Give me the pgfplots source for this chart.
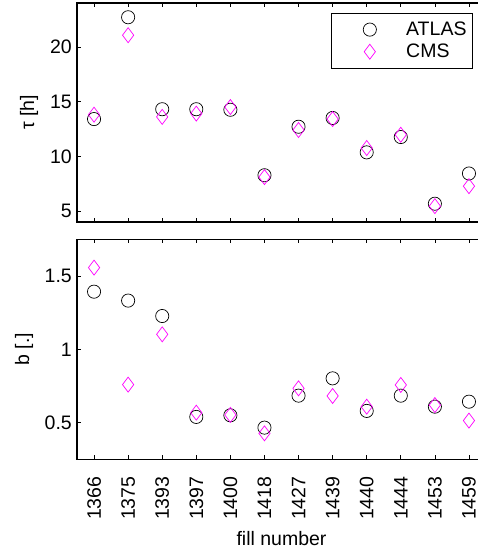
\documentclass[border=0pt]{standalone}
\usepackage{pgfplots}
\pgfplotsset{compat=1.18}
\usepackage{pgfplotstable}
\usepackage{fontspec}
\setmainfont{Liberation Sans}
\newcommand\fs{\fontsize{19.5}{23}\selectfont}

\pgfplotstableread{
x atlas cms
0  13.40 13.80
1  22.70 21.06
2  14.30 13.60
3  14.30 13.90
4  14.25 14.50
5  8.27  8.10
6  12.70 12.40
7  13.50 13.40
8  10.36 10.76
9  11.76 11.97
10 5.67  5.45
11 8.43  7.27
}\tautable

\pgfplotstableread{
x atlas cms
0  1.393 1.557
1  1.332 0.759
2  1.227 1.102
3  0.539 0.568
4  0.550 0.553
5  0.466 0.427
6  0.684 0.734
7  0.802 0.682
8  0.580 0.609
9  0.684 0.757
10 0.609 0.620
11 0.643 0.514
}\btable

\definecolor{mag}{rgb}{1,0,1}

\pgfplotsset{
  common/.style={
    scale only axis,
    width=409pt,
    xmin=-0.5, xmax=11.5,
    xtick={0,...,11},
    tick align=inside,
    major tick length=4pt,
    axis line style={line width=1.1pt},
    tick style={line width=0.6pt, black},
    tick label style={font=\fs},
    label style={font=\fs},
    /pgf/number format/assume math mode=true,
    yticklabel style={inner xsep=5pt},
    ytick pos=left,
  },
}

\begin{document}
\begin{tikzpicture}
\begin{axis}[common,
  at={(77pt,-3pt)}, anchor=north west,
  height=219pt,
  ymin=4, ymax=24,
  ytick={5,10,15,20},
  xticklabels={},
  ylabel={τ [h]},
  every axis y label/.style={at={(rel axis cs:0,0.5)}, xshift=-48pt, rotate=90, anchor=center, font=\fs},
  legend style={at={(0.968,0.956)}, anchor=north east, font=\fs, draw=black, line width=0.8pt,
    inner xsep=0pt, inner ysep=7pt, row sep=3pt,
    nodes={inner xsep=6pt}},
  legend cell align=left,
  legend image code/.code={\path (-38pt,0pt) (30pt,0pt); \draw[#1] plot coordinates {(0pt,0pt)};},
]
\addplot[only marks, mark=o, mark size=6.6pt, black, line width=0.7pt] table[x=x,y=atlas]{\tautable};
\addlegendentry{ATLAS}
\addplot[only marks, mark=diamond, mark size=7.5pt, mag, line width=0.7pt] table[x=x,y=cms]{\tautable};
\addlegendentry{CMS}
\end{axis}

\begin{axis}[common,
  at={(77pt,-239.3pt)}, anchor=north west,
  height=220pt,
  ymin=0.25, ymax=1.75,
  ytick={0.5,1,1.5},
  yticklabels={0.5,1,1.5},
  xticklabels={1366,1375,1393,1397,1400,1418,1427,1439,1440,1444,1453,1459},
  xticklabel style={rotate=90, anchor=east, inner xsep=17pt},
  xlabel={fill number},
  every axis x label/.style={at={(rel axis cs:0.5,0)}, anchor=center, yshift=-79pt, font=\fs},
  ylabel={b [.]},
  every axis y label/.style={at={(rel axis cs:0,0.5)}, xshift=-53pt, rotate=90, anchor=center, font=\fs},
]
\addplot[only marks, mark=o, mark size=6.6pt, black, line width=0.7pt] table[x=x,y=atlas]{\btable};
\addplot[only marks, mark=diamond, mark size=7.5pt, mag, line width=0.7pt] table[x=x,y=cms]{\btable};
\end{axis}

\pgfresetboundingbox
\path[use as bounding box] (0,0) rectangle (477pt,-552pt);
\end{tikzpicture}
\end{document}
